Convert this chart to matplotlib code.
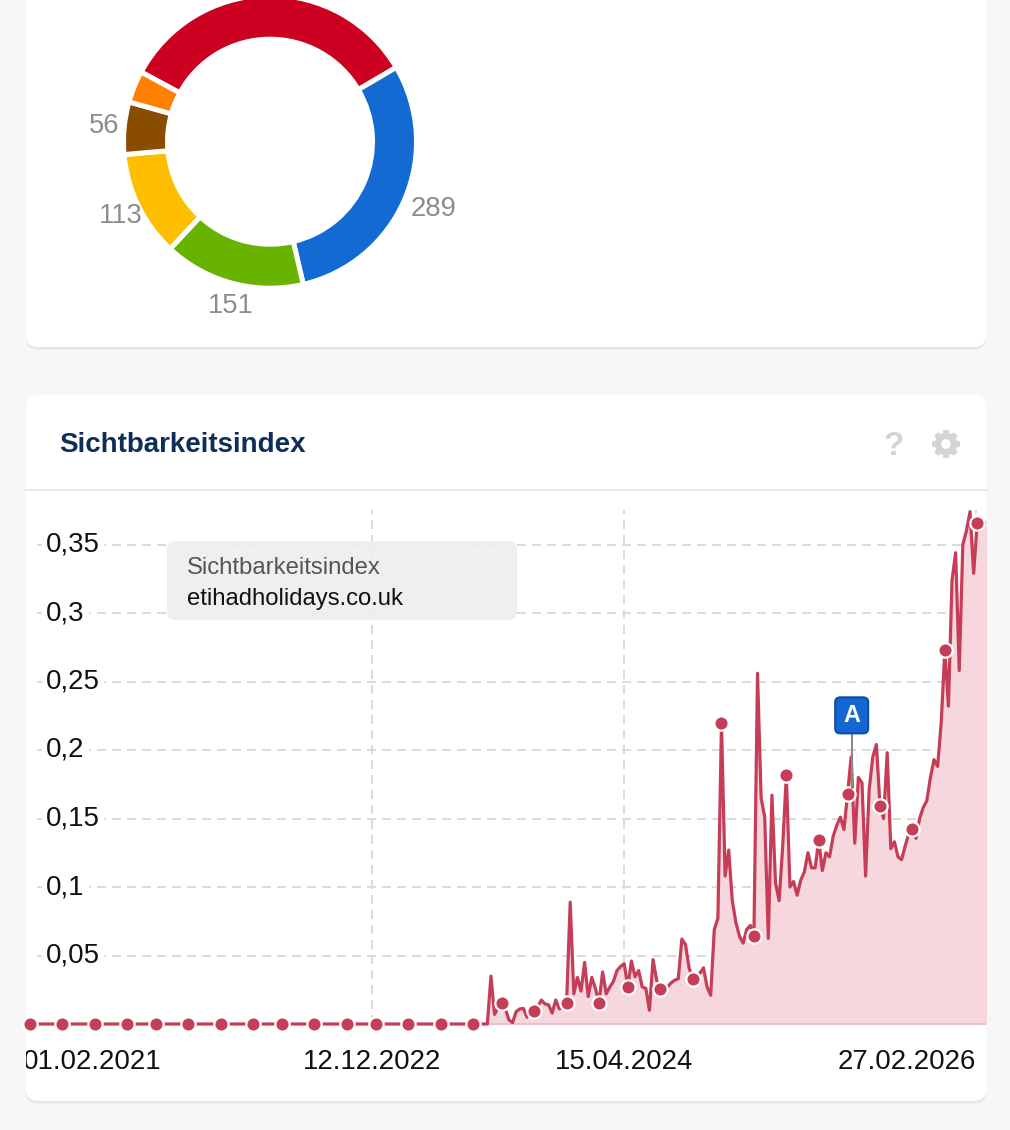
import numpy as np
import pandas as pd
import matplotlib
matplotlib.use("Agg")
import matplotlib.pyplot as plt
import matplotlib.dates as mdates
from matplotlib.patches import FancyBboxPatch, Rectangle, Polygon, Circle
from matplotlib.transforms import blended_transform_factory, IdentityTransform

plt.rcParams['font.family'] = ['Liberation Sans', 'DejaVu Sans']
plt.rcParams['lines.scale_dashes'] = False

# ===== Donut data =====
donut_values = [326, 289, 151, 113, 56, 34]
donut_colors = ["#cc0020", "#146ad3", "#68b200", "#ffbe00", "#8a4d00", "#ff8000"]
donut_labels = ["", "289", "151", "113", "56", ""]

# ===== Sichtbarkeitsindex data =====
line_start = "2021-02-08"
zero_dates = ["2021-02-15", "2021-04-19", "2021-06-21", "2021-08-23", "2021-10-18",
              "2021-12-20", "2022-02-21", "2022-04-25", "2022-06-20", "2022-08-22",
              "2022-10-24", "2022-12-19", "2023-02-20", "2023-04-24", "2023-06-26"]
zero_values = [0, 0, 0, 0, 0, 0, 0, 0, 0, 0, 0, 0, 0, 0, 0]

weekly_start = "2023-07-24"
weekly_values = [
    0.000, 0.035, 0.007, 0.012, 0.0156, 0.011, 0.003, 0.001, 0.009, 0.011,
    0.0114, 0.005, 0.0126, 0.0095, 0.0126, 0.0175, 0.0146, 0.014, 0.008, 0.0175,
    0.011, 0.013, 0.0156, 0.089, 0.022, 0.034, 0.024, 0.045, 0.020, 0.034,
    0.026, 0.0156, 0.038, 0.022, 0.027, 0.031, 0.039, 0.042, 0.044, 0.027,
    0.046, 0.0345, 0.039, 0.027, 0.026, 0.010, 0.047, 0.032, 0.0253, 0.026,
    0.027, 0.030, 0.032, 0.033, 0.062, 0.058, 0.041, 0.033, 0.035, 0.037,
    0.041, 0.027, 0.021, 0.069, 0.077, 0.220, 0.108, 0.127, 0.090, 0.074,
    0.064, 0.059, 0.069, 0.072, 0.064, 0.256, 0.165, 0.151, 0.0625, 0.167,
    0.103, 0.090, 0.130, 0.182, 0.100, 0.104, 0.094, 0.105, 0.111, 0.125,
    0.114, 0.114, 0.134, 0.112, 0.125, 0.122, 0.137, 0.145, 0.151, 0.142,
    0.168, 0.195, 0.132, 0.180, 0.176, 0.108, 0.171, 0.195, 0.204, 0.159,
    0.150, 0.198, 0.128, 0.133, 0.122, 0.120, 0.130, 0.139, 0.142, 0.1355,
    0.150, 0.158, 0.163, 0.180, 0.193, 0.188, 0.220, 0.273, 0.232, 0.324,
    0.344, 0.258, 0.350, 0.360, 0.374, 0.329, 0.366, 0.366, 0.366, 0.366,
]
weekly_dot_idx = [4, 13, 22, 31, 39, 48, 57, 65, 74, 83, 92, 100, 109, 118, 127, 136]

tick_dates = ["2021-02-01", "2022-12-12", "2024-04-15", "2026-02-27"]
tick_labels = ["01.02.2021", "12.12.2022", "15.04.2024", "27.02.2026"]
y_ticks = [0.05, 0.1, 0.15, 0.2, 0.25, 0.3, 0.35]
y_tick_labels = ["0,05", "0,1", "0,15", "0,2", "0,25", "0,3", "0,35"]

flag_date = "2025-07-01"
flag_value = 0.172
flag_label = "A"

title = "Sichtbarkeitsindex"
tooltip_lines = ["Sichtbarkeitsindex", "etihadholidays.co.uk"]

# ===== Figure =====
W, H = 1010, 1130
fig = plt.figure(figsize=(W / 100, H / 100), dpi=100)
fig.patch.set_facecolor("#f7f7f7")


def fy(py):
    return 1 - py / H


bg = fig.add_axes([0, 0, 1, 1])
bg.set_xlim(0, W)
bg.set_ylim(H, 0)
bg.axis("off")

# cards with soft shadow
for (y0, h) in [(-40, 387), (395, 706)]:
    for off, col in [(3, "#eeeeee"), (1.5, "#e4e4e4")]:
        bg.add_patch(FancyBboxPatch((26, y0 + off), 960, h, boxstyle="round,pad=0,rounding_size=12",
                                    fc=col, ec="none", zorder=1))
    bg.add_patch(FancyBboxPatch((26, y0), 960, h, boxstyle="round,pad=0,rounding_size=12",
                                fc="white", ec="none", zorder=2))

# header of second card
bg.text(59, 452, title, fontsize=20, fontweight="bold", color="#0e2d58", va="baseline", zorder=3)
bg.text(894, 455, "?", fontsize=24, fontweight="bold", color="#d4d4d4", ha="center", va="baseline", zorder=3)

# gear icon
gx, gy = 946, 444
phi = np.linspace(0, 2 * np.pi, 720, endpoint=False)
tooth = np.abs(((phi + np.pi / 8) % (np.pi / 4)) - np.pi / 8)
r = np.where(tooth < 0.2, 14.0, np.where(tooth < 0.3, 14.0 - (tooth - 0.2) * 30, 11.0))
bg.add_patch(Polygon(np.column_stack([gx + r * np.cos(phi), gy + r * np.sin(phi)]),
                     closed=True, fc="#d4d4d4", ec="none", zorder=3))
bg.add_patch(Circle((gx, gy), 4.8, fc="white", ec="none", zorder=4))

bg.plot([26, 986], [490, 490], color="#e9e9e9", lw=1.5, zorder=3)

# ===== Donut =====
cx, cy, half = 270, 141.7, 150
pax = fig.add_axes([(cx - half) / W, fy(cy + half), 2 * half / W, 2 * half / H])
wedges, _ = pax.pie(donut_values, colors=donut_colors, radius=146.5, startangle=151.6,
                    counterclock=False,
                    wedgeprops=dict(width=44, edgecolor="white", linewidth=3.6))
pax.set_xlim(-half, half)
pax.set_ylim(-half, half)
pax.axis("off")
for w, lab in zip(wedges, donut_labels):
    if not lab:
        continue
    mid = np.deg2rad((w.theta1 + w.theta2) / 2)
    pax.text(172 * np.cos(mid) + 5, 170 * np.sin(mid), lab,
             fontsize=19.7, color="#8c8c8c", ha="center", va="center")

# ===== Line chart =====
ax = fig.add_axes([0, fy(1028), 986 / W, (1028 - 510) / H])
ax.patch.set_visible(False)
ax.axis("off")

weekly_dates = pd.date_range(weekly_start, periods=len(weekly_values), freq="7D")
dates = pd.to_datetime([line_start] + zero_dates).append(weekly_dates)
values = np.array([0] + zero_values + weekly_values, dtype=float)
dot_dates = pd.to_datetime(zero_dates).append(weekly_dates[weekly_dot_idx])
dot_values = zero_values + [weekly_values[i] for i in weekly_dot_idx]

ax.set_xlim(pd.Timestamp("2020-12-19"), pd.Timestamp("2026-03-19"))
ax.set_ylim(-4 / 1370, 514 / 1370)

grid_kw = dict(color="#dadada", lw=1.4, ls=(0, (6.5, 4.3)), zorder=1)
for v in y_ticks:
    ax.axhline(v, xmin=37 / 986, xmax=1, **grid_kw)
for d in tick_dates[1:]:
    ax.axvline(pd.Timestamp(d), ymin=4 / 518, ymax=1, **grid_kw)

ax.fill_between(dates, values, 0, color="#f5d7dd", lw=0, zorder=2)
ax.axhline(0, xmin=27 / 986, xmax=1, color="#dcc1c7", lw=1.2, zorder=2.5)
ax.plot(dates, values, color="#c63d57", lw=2.3, solid_joinstyle="round", zorder=3)
ax.plot(dot_dates, dot_values, "o", ms=10.3, mfc="#c63d57", mec="white", mew=1.6,
        zorder=4, clip_on=False)

# y labels inside the plot
ytr = blended_transform_factory(bg.transData, ax.transData)
for v, lab in zip(y_ticks, y_tick_labels):
    ax.text(46, v, lab, transform=ytr, fontsize=19.9, color="#111111", ha="left", va="center",
            bbox=dict(fc="white", ec="none", pad=3), zorder=5)

# x labels
xtr = blended_transform_factory(ax.transData, bg.transData)
for i, (d, lab) in enumerate(zip(tick_dates, tick_labels)):
    ha = "left" if i == 0 else ("right" if i == len(tick_dates) - 1 else "center")
    ax.text(mdates.date2num(pd.Timestamp(d)), 1069, lab, transform=xtr, fontsize=19.9,
            color="#111111", ha=ha, va="baseline", clip_on=False, zorder=5)

# tooltip box
ax.add_patch(FancyBboxPatch((167, 541), 350, 79, boxstyle="round,pad=0,rounding_size=8",
                            transform=bg.transData, fc="#eeeeee", ec="none", alpha=0.9, zorder=6))
ax.text(187, 574, tooltip_lines[0], transform=bg.transData, fontsize=17.2, color="#555555",
        va="baseline", zorder=7)
ax.text(187, 605, tooltip_lines[1], transform=bg.transData, fontsize=17.2, color="#111111",
        va="baseline", zorder=7)

# event flag
fx_, fy_ = ax.transData.transform((mdates.date2num(pd.Timestamp(flag_date)), flag_value))
ax.plot([fx_, fx_], [fy_, fy_ + 55], transform=IdentityTransform(), color="#8a8a8a", lw=1.5, zorder=6)
ax.add_patch(FancyBboxPatch((fx_ - 16.5, fy_ + 55), 33, 36, boxstyle="round,pad=0,rounding_size=5",
                            transform=IdentityTransform(), fc="#1467d3", ec="#0c4ea6", lw=1.5, zorder=7))
ax.text(fx_, fy_ + 73, flag_label, transform=IdentityTransform(), fontsize=16.8, fontweight="bold",
        color="white", ha="center", va="center", zorder=8)

# clip the first date label at the card edge
fig.add_artist(Rectangle((0, fy(1095)), 25.5 / W, 60 / H, transform=fig.transFigure,
                         fc="#f7f7f7", ec="none", zorder=10))

fig.savefig("out.png", dpi=100, facecolor=fig.get_facecolor())
